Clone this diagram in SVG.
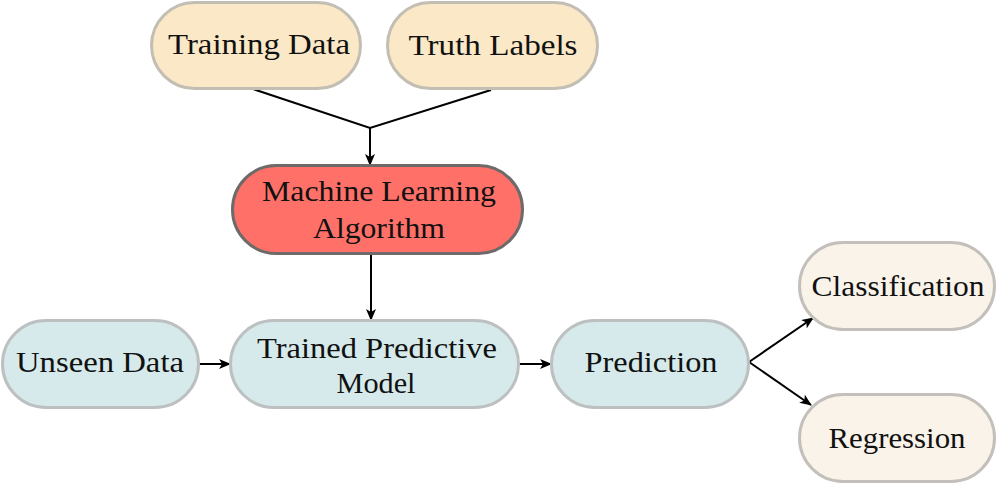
<svg xmlns="http://www.w3.org/2000/svg" width="997" height="484" viewBox="0 0 997 484">
<style>
.n rect{stroke-width:3}
.y rect{fill:#fbe8c6;stroke:#c3beb4}
.b rect{fill:#d6eaeb;stroke:#bcc0c0}
.c rect{fill:#faf3ea;stroke:#c3c0bb}
.r rect{fill:#ff7068;stroke:#6e6a69}
text{font-family:"Liberation Serif","DejaVu Serif",serif;font-size:30px;fill:#111;text-anchor:middle}
.e{stroke:#000;stroke-width:2;fill:none}
</style>
<defs>
<marker id="a" viewBox="0 0 12 10" refX="11" refY="5" markerWidth="12" markerHeight="10" markerUnits="userSpaceOnUse" orient="auto">
<path d="M0,0 L12,5 L0,10 L3,5 Z" fill="#000"/>
</marker>
</defs>
<g id="connectors">
<polyline class="e" points="253,89 370,128 491,90"/>
<line class="e" x1="370" y1="128" x2="370" y2="165" marker-end="url(#a)"/>
<line class="e" x1="371" y1="254" x2="371" y2="320" marker-end="url(#a)"/>
<line class="e" x1="199" y1="364" x2="230" y2="364" marker-end="url(#a)"/>
<line class="e" x1="519" y1="364" x2="551" y2="364" marker-end="url(#a)"/>
<line class="e" x1="749" y1="362" x2="813" y2="318" marker-end="url(#a)"/>
<line class="e" x1="749" y1="362" x2="811" y2="405" marker-end="url(#a)"/>
</g>
<g id="training" class="n y"><rect x="151.5" y="2.5" width="209" height="86" rx="43"/><text x="259" y="54" textLength="182" lengthAdjust="spacingAndGlyphs">Training Data</text></g>
<g id="truth" class="n y"><rect x="387.5" y="2.5" width="210" height="86" rx="43"/><text x="493" y="55" textLength="169" lengthAdjust="spacingAndGlyphs">Truth Labels</text></g>
<g id="mla" class="n r"><rect x="232.5" y="165.5" width="290" height="88" rx="44"/><text x="379" y="201" textLength="234" lengthAdjust="spacingAndGlyphs">Machine Learning</text><text x="379" y="238" textLength="132" lengthAdjust="spacingAndGlyphs">Algorithm</text></g>
<g id="unseen" class="n b"><rect x="2.5" y="320.5" width="196" height="87" rx="43.5"/><text x="100" y="372" textLength="168" lengthAdjust="spacingAndGlyphs">Unseen Data</text></g>
<g id="model" class="n b"><rect x="230.5" y="320.5" width="288" height="87" rx="43.5"/><text x="377" y="358" textLength="240" lengthAdjust="spacingAndGlyphs">Trained Predictive</text><text x="376" y="393" textLength="79" lengthAdjust="spacingAndGlyphs">Model</text></g>
<g id="prediction" class="n b"><rect x="551.5" y="320.5" width="197" height="87" rx="43.5"/><text x="651" y="372" textLength="133" lengthAdjust="spacingAndGlyphs">Prediction</text></g>
<g id="classification" class="n c"><rect x="799.5" y="242.5" width="195" height="87" rx="43.5"/><text x="898" y="296" textLength="173" lengthAdjust="spacingAndGlyphs">Classification</text></g>
<g id="regression" class="n c"><rect x="799.5" y="394.5" width="195" height="87" rx="43.5"/><text x="897" y="448" textLength="137" lengthAdjust="spacingAndGlyphs">Regression</text></g>
</svg>
